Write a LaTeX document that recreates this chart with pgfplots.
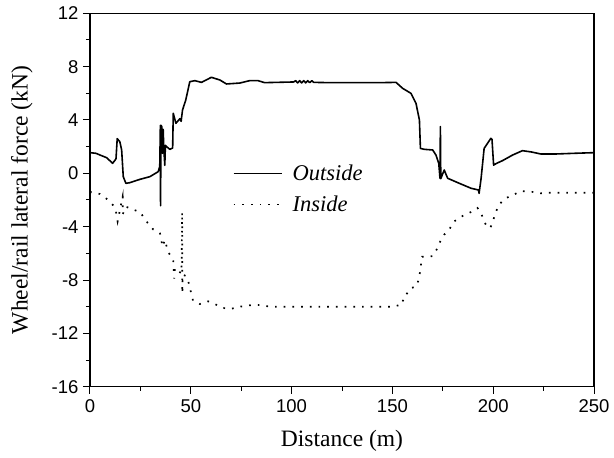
\documentclass[border=0pt]{standalone}
\usepackage{fontspec}
\setmainfont{Liberation Serif}
\newfontfamily\arial{Liberation Sans}
\usepackage{pgfplots}
\pgfplotsset{compat=1.18}
\begin{document}
\begin{tikzpicture}
\begin{axis}[
  name=ax,
  scale only axis,
  width=504pt, height=373.4pt,
  xmin=0, xmax=250, ymin=-16, ymax=12,
  xtick={0,50,...,250}, ytick={-16,-12,...,12},
  minor x tick num=1, minor y tick num=1,
  xtick pos=bottom, ytick pos=left,
  tick align=outside,
  major tick length=7pt, minor tick length=4pt,
  every tick/.style={black, line width=1pt},
  axis line style={black, line width=1.3pt},
  /pgf/number format/assume math mode=true,
  ticklabel style={font=\arial\fontsize{18.5}{20}\selectfont},
  xticklabel style={yshift=-2pt},
  yticklabel style={xshift=-1pt},
  xlabel={Distance (m)},
  ylabel={Wheel/rail lateral force (kN)},
  every axis x label/.style={at={(axis description cs:0.5,-0.1454)},anchor=center,font=\fontsize{23.5}{26}\selectfont},
  every axis y label/.style={at={(axis description cs:-0.135,0.5)},rotate=90,anchor=center,font=\fontsize{23.5}{26}\selectfont},
  legend style={at={(axis description cs:0.283,0.6)}, anchor=north west, draw=none, fill=none,
    font=\itshape\fontsize{22.5}{24}\selectfont, row sep=10pt, column sep=8pt, inner sep=0pt,
    nodes={inner sep=2pt}},
  legend cell align=left,
  legend image code/.code={\draw[#1] (0pt,0pt) -- (48pt,0pt);},
  clip=false,
]
\addplot[black, line width=1.6pt, line join=round] coordinates {
(0,1.55)(3,1.5)(5,1.37)(8.3,1.17)(11.2,0.75)(12.5,1.0)(12.9,1.1)(13.5,2.6)(14.8,2.37)(15.7,1.75)
(16.5,-0.25)(17.8,-0.75)(19.8,-0.7)(24.8,-0.45)(29.7,-0.25)(33.8,0.12)(34.6,0.5)
(34.9,3.6)(35.0,-2.43)(35.2,3.6)(35.6,3.5)(36.0,1.5)(36.3,3.3)(36.6,1.9)(37.1,0.6)(37.4,2.1)(38,2.0)
(39.6,1.8)(41,1.9)(41.3,4.5)(42.6,3.75)(44.6,4.1)(45.2,3.9)(45.9,4.75)(47.5,5.5)(49.5,6.87)
(52,6.95)(55.3,6.82)(60.2,7.2)(64.4,7.0)(67.7,6.7)(74.3,6.77)(79.2,6.95)(83.3,6.95)(86.6,6.8)
(101,6.85)(102,6.95)(103,6.78)(104,6.95)(105,6.78)(106,6.95)(107,6.78)(108,6.95)(109,6.8)(110,6.95)(111,6.82)
(118.8,6.8)(133.7,6.8)(143.6,6.8)(151.8,6.82)(155.1,6.37)(159.2,6.0)(161.7,5.25)(163.4,4.0)
(163.9,1.87)(165.8,1.8)(170,1.75)(171.6,1.37)(173,0.75)(173.6,-0.37)(173.8,3.5)(174,-0.4)
(175.7,0.25)(177.4,-0.37)(183.2,-0.75)(189,-1.12)(192.7,-1.25)(193,-1.5)(194,-0.37)(195.5,1.87)
(198.8,2.62)(199.4,2.55)(200.2,0.62)(201.7,0.75)(204.6,0.95)(209.6,1.37)(214.5,1.7)(219,1.6)
(223.6,1.45)(231,1.45)(240,1.5)(250,1.55)
};
\addlegendentry{Outside}
\addplot[black, line width=1.7pt, dash pattern=on 1.7pt off 7pt] coordinates {
(0,-1.4)(5,-1.55)(8.6,-1.95)(11.5,-2.4)(12.8,-2.8)(13.7,-3.6)(14.5,-3.0)(16.2,-1.75)(16.3,-3.05)
(17.8,-2.5)(21,-2.7)(24.8,-2.9)(28,-3.6)(31.3,-4.2)(34.7,-4.5)(36,-5.5)(37.1,-5.0)(38.8,-5.9)
(41.3,-6.5)(41.8,-7.9)(42.1,-7.1)(43.5,-7.3)(45.4,-7.5)(45.7,-2.9)(45.8,-9.0)(46,-7.6)(47.6,-7.7)
(48.7,-8.05)(49.9,-8.8)(51.1,-9.55)(54.5,-9.8)(58.6,-9.6)(61.9,-9.8)(66,-10.1)(70.2,-10.15)
(74.3,-10.0)(80,-9.88)(85,-9.88)(89,-10.0)(100,-10.0)(120,-10.0)(143.6,-10.0)(150.2,-10.0)
(153.5,-9.88)(154.3,-9.9)(156.4,-9.1)(156.8,-9.1)(159.2,-8.6)(161.7,-8.5)(163,-8.0)(163.7,-7.4)
(164.7,-6.25)(168.3,-6.25)(170,-6.2)(172.4,-5.6)(174,-5.0)(175.7,-4.6)(177.8,-4.3)(180.7,-3.6)
(184.8,-3.2)(189,-2.9)(192.2,-2.6)(193.8,-2.9)(195.5,-3.6)(196.9,-4.0)(198.5,-4.1)(199.8,-3.7)
(200.5,-3.25)(202.6,-2.4)(205.8,-1.9)(210,-1.6)(214,-1.33)(218.6,-1.37)(223.6,-1.5)(228.5,-1.45)
(250,-1.45)
};
\addlegendentry{Inside}
\end{axis}
\path ([xshift=-90pt,yshift=-70.3pt]ax.south west) rectangle ([xshift=20pt,yshift=13.3pt]ax.north east);
\end{tikzpicture}
\end{document}
